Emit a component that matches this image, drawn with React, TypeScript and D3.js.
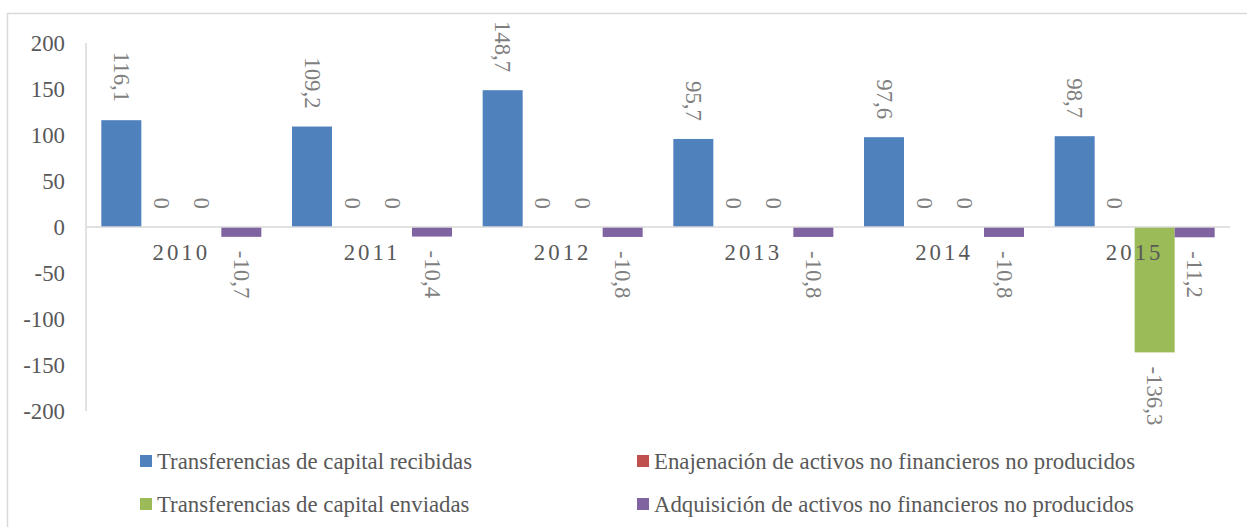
import React from "react";
import * as d3 from "d3";

const years = ["2010", "2011", "2012", "2013", "2014", "2015"];
const recibidas = [116.1, 109.2, 148.7, 95.7, 97.6, 98.7];
const enajenacion = [0, 0, 0, 0, 0, 0];
const enviadas = [0, 0, 0, 0, 0, -136.3];
const adquisicion = [-10.7, -10.4, -10.8, -10.8, -10.8, -11.2];
const yTicks = [200, 150, 100, 50, 0, -50, -100, -150, -200];

const seriesNames = [
  "Transferencias de capital recibidas",
  "Enajenación de activos no financieros no producidos",
  "Transferencias de capital enviadas",
  "Adquisición de activos no financieros no producidos",
];
const seriesColors = ["#4f81bd", "#c0504d", "#9bbb59", "#8064a2"];
const seriesValues = [recibidas, enajenacion, enviadas, adquisicion];

const W = 1247;
const H = 527;
const FONT = "'Liberation Serif', 'DejaVu Serif', serif";
const FS = 22.8;

const fmt = (v: number) => String(v).replace(".", ",");

export default function App() {
  const plotLeft = 86;
  const plotRight = 1230;
  const y = d3.scaleLinear().domain([-200, 200]).range([411, 43]);
  const x0 = d3.scaleBand().domain(years).range([plotLeft, plotRight]).padding(0);
  const bw = 40;
  const groupPad = (x0.bandwidth() - 4 * bw) / 2;
  const sx = d3.scaleBand().domain(seriesNames).range([groupPad, groupPad + 4 * bw]).padding(0);

  const zero = y(0);

  return (
    <svg
      width={W}
      height={H}
      style={{ position: "absolute", left: 0, top: 0, background: "#fff" }}
      fontFamily={FONT}
    >
      <rect x={7.5} y={13.5} width={1245} height={530} fill="#fff" stroke="#d9d9d9" strokeWidth={1.5} />

      <line x1={plotLeft} x2={plotLeft} y1={y(200)} y2={y(-200)} stroke="#d9d9d9" strokeWidth={1.5} />

      {yTicks.map((t) => (
        <text
          key={t}
          x={65}
          y={y(t)}
          textAnchor="end"
          dominantBaseline="central"
          fontSize={FS}
          fill="#595959"
        >
          {t}
        </text>
      ))}

      {seriesValues.map((vals, si) =>
        vals.map((v, i) => {
          const bx = (x0(years[i]) as number) + (sx(seriesNames[si]) as number);
          const top = y(Math.max(0, v));
          const h = Math.abs(y(v) - zero);
          return h > 0 ? (
            <rect key={`b${si}-${i}`} x={bx} y={top} width={sx.bandwidth()} height={h} fill={seriesColors[si]} />
          ) : null;
        })
      )}

      <line x1={plotLeft} x2={plotRight} y1={zero} y2={zero} stroke="#d9d9d9" strokeWidth={1.5} />

      {years.map((yr) => (
        <text
          key={yr}
          x={(x0(yr) as number) + x0.bandwidth() / 2}
          y={260}
          textAnchor="middle"
          fontSize={FS}
          letterSpacing={3}
          fill="#595959"
        >
          {yr}
        </text>
      ))}

      {seriesValues.map((vals, si) =>
        vals.map((v, i) => {
          const cx = (x0(years[i]) as number) + (sx(seriesNames[si]) as number) + sx.bandwidth() / 2;
          const pos = v >= 0;
          const ay = pos ? y(v) - 18 : y(v) + 14;
          return (
            <text
              key={`l${si}-${i}`}
              transform={`translate(${cx},${ay}) rotate(90)`}
              textAnchor={pos ? "end" : "start"}
              dominantBaseline="central"
              fontSize={FS}
              fill="#7f7f7f"
            >
              {fmt(v)}
            </text>
          );
        })
      )}

      {seriesNames.map((name, i) => {
        const col = i % 2;
        const row = Math.floor(i / 2);
        const lx = col === 0 ? 140 : 637;
        const ly = row === 0 ? 461 : 504;
        return (
          <g key={name}>
            <rect x={lx} y={ly - 6} width={12} height={12} fill={seriesColors[i]} />
            <text x={lx + 17} y={ly} dominantBaseline="central" fontSize={FS} fill="#595959">
              {name}
            </text>
          </g>
        );
      })}
    </svg>
  );
}
